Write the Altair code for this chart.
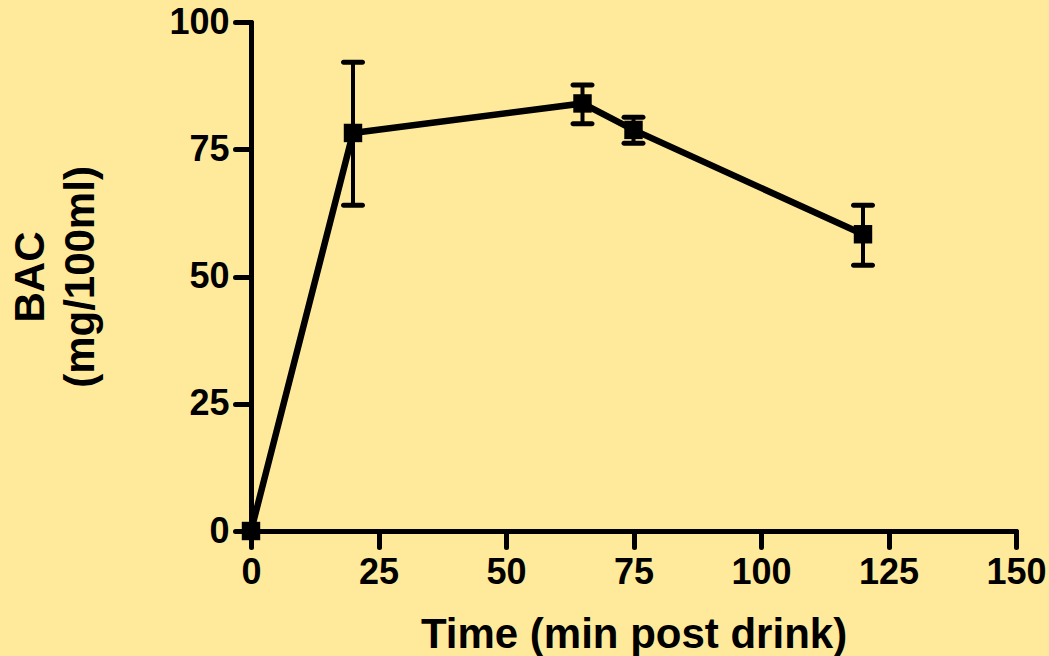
import altair as alt
import pandas as pd

time_min = [0, 20, 65, 75, 120]
bac = [0, 78.2, 84.0, 78.8, 58.3]
err_low = [None, 64.0, 80.0, 76.2, 52.2]
err_high = [None, 92.1, 87.6, 81.3, 64.0]
x_ticks = [0, 25, 50, 75, 100, 125, 150]
y_ticks = [0, 25, 50, 75, 100]

df = pd.DataFrame({"t": time_min, "bac": bac, "lo": err_low, "hi": err_high})
dfe = df.dropna()

xs = alt.Scale(domain=[0, 150], nice=False, zero=False)
ys = alt.Scale(domain=[0, 100], nice=False)

FONT = "Liberation Sans"

x_axis = alt.Axis(values=x_ticks, title="Time (min post drink)", grid=False,
                  labelFontSize=36, labelFont=FONT, labelFontWeight="bold",
                  labelColor="black", labelPadding=8,
                  titleFontSize=42, titleFont=FONT, titleFontWeight="bold",
                  titleColor="black", titleBaseline="alphabetic", titleY=116,
                  domainWidth=5, domainColor="black", domainCap="round",
                  tickWidth=5, tickColor="black", tickSize=16, tickCap="round",
                  labelFlush=False, labelOverlap=False)
y_axis = alt.Axis(values=y_ticks, title=["BAC", "(mg/100ml)"], grid=False,
                  labelFontSize=36, labelFont=FONT, labelFontWeight="bold",
                  labelColor="black", labelPadding=6,
                  titleFontSize=42, titleFont=FONT, titleFontWeight="bold",
                  titleColor="black", titleLineHeight=50,
                  titleBaseline="alphabetic", titleX=-208, titleY=254.5,
                  titleAngle=270,
                  domainWidth=5, domainColor="black", domainCap="round",
                  tickWidth=5, tickColor="black", tickSize=16, tickCap="round",
                  labelFlush=False, labelOverlap=False)

base = alt.Chart(df)

line = base.mark_line(color="black", strokeWidth=6.5).encode(
    x=alt.X("t:Q", scale=xs, axis=x_axis),
    y=alt.Y("bac:Q", scale=ys, axis=y_axis),
)
pts = base.mark_point(shape="square", filled=True, color="black", size=340, opacity=1).encode(
    x=alt.X("t:Q", scale=xs), y=alt.Y("bac:Q", scale=ys)
)
rules = alt.Chart(dfe).mark_rule(color="black", strokeWidth=4).encode(
    x=alt.X("t:Q", scale=xs), y=alt.Y("lo:Q", scale=ys), y2="hi:Q"
)
cap_lo = alt.Chart(dfe).mark_tick(color="black", orient="horizontal", size=24,
                                  thickness=5, cornerRadius=2.5, opacity=1).encode(
    x=alt.X("t:Q", scale=xs), y=alt.Y("lo:Q", scale=ys)
)
cap_hi = alt.Chart(dfe).mark_tick(color="black", orient="horizontal", size=24,
                                  thickness=5, cornerRadius=2.5, opacity=1).encode(
    x=alt.X("t:Q", scale=xs), y=alt.Y("hi:Q", scale=ys)
)

chart = alt.layer(rules, cap_lo, cap_hi, line, pts).properties(
    width=765, height=509,
    autosize=alt.AutoSizeParams(type="none"),
    padding={"left": 251, "top": 22, "right": 33, "bottom": 125},
    background="#FFEA9B",
).configure_view(stroke=None)

chart.save("out.html", embed_options={"renderer": "svg", "actions": False})
